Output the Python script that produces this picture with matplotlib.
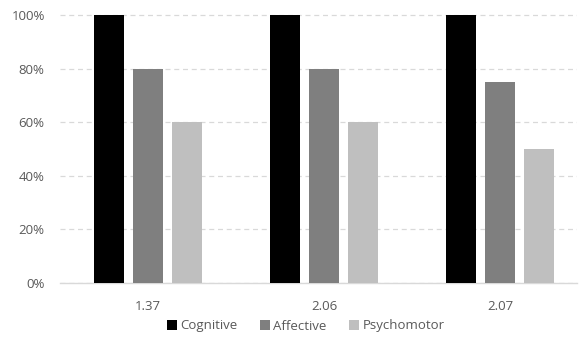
import numpy as np
import matplotlib
matplotlib.use("Agg")
import matplotlib.pyplot as plt
from matplotlib.ticker import PercentFormatter

plt.rcParams['font.family'] = ['Open Sans', 'DejaVu Sans']

groups = ['1.37', '2.06', '2.07']
series_names = ['Cognitive', 'Affective', 'Psychomotor']
cognitive = [100, 100, 100]
affective = [80, 80, 75]
psychomotor = [60, 60, 50]
colors = ['#000000', '#7f7f7f', '#bfbfbf']

fig = plt.figure(figsize=(5.79, 3.47), dpi=100)
ax = fig.add_axes([60 / 579, 64 / 347, 517 / 579, 271 / 347])

x = np.arange(len(groups))
width = 0.17
step = 0.2216
for i, (vals, name, col) in enumerate(zip([cognitive, affective, psychomotor], series_names, colors)):
    ax.bar(x + (i - 1) * step, vals, width, color=col, label=name, zorder=3)

ax.set_xlim(-0.5, 2.4375)
ax.set_ylim(0, 101.2)
ax.set_yticks(np.arange(0, 101, 20))
ax.yaxis.set_major_formatter(PercentFormatter(decimals=0))
ax.set_xticks(x)
ax.set_xticklabels(groups)
ax.grid(axis='y', color='#d9d9d9', linestyle=(0, (4, 3)), linewidth=0.9, zorder=0)
for s in ['top', 'right', 'left']:
    ax.spines[s].set_visible(False)
ax.spines['bottom'].set_color('#d9d9d9')
ax.spines['bottom'].set_linewidth(1.0)
ax.tick_params(axis='both', length=0, colors='#595959', labelsize=9.5)
ax.tick_params(axis='y', pad=11)
ax.tick_params(axis='x', pad=12)

fig.legend(loc='center', bbox_to_anchor=(306 / 579, 1 - 326 / 347), ncol=3, frameon=False,
           fontsize=9.5, handlelength=0.7, handleheight=0.7, handletextpad=0.3,
           columnspacing=1.7, labelcolor='#595959')

fig.savefig('out.png', dpi=100)
